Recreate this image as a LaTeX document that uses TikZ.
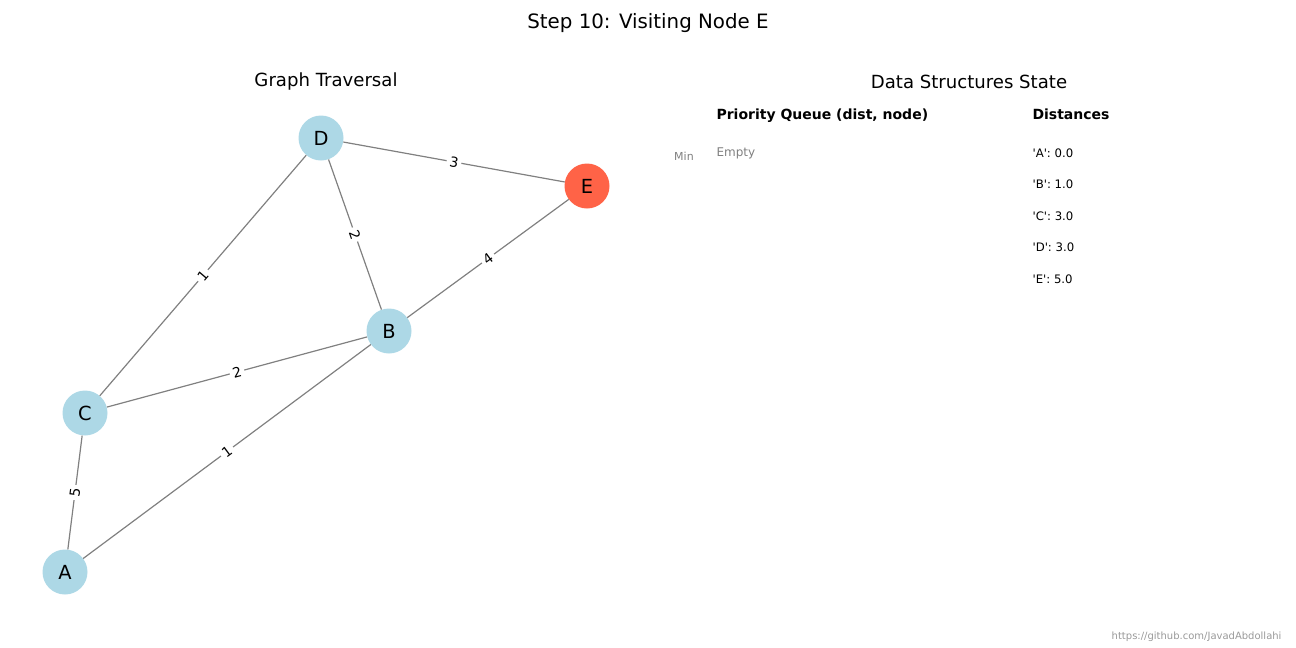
\documentclass[tikz,border=0pt]{standalone}
\usepackage{fontspec}
\setmainfont{DejaVu Sans}
\definecolor{lblue}{HTML}{ADD8E6}
\definecolor{tomato}{HTML}{FF6347}
\definecolor{edgegray}{HTML}{808080}
\newcommand{\q}{\textquotesingle}
\begin{document}
\begin{tikzpicture}[x=1pt,y=-1pt,
  gnode/.style={circle,fill=lblue,minimum size=45pt,inner sep=0pt,font=\fontsize{19.4}{22}\selectfont},
  edge/.style={draw=edgegray,line width=1.2pt},
  elabel/.style={midway,sloped,fill=white,inner sep=3pt,font=\fontsize{13.9}{16}\selectfont},
  ttl/.style={font=\fontsize{18.1}{22}\selectfont},
  hdr/.style={anchor=base west,font=\bfseries\fontsize{14}{17}\selectfont},
  dtxt/.style={anchor=west,font=\fontsize{11.7}{14}\selectfont}]
\useasboundingbox (0,0) rectangle (1296,648);
\node[font=\fontsize{19.8}{23}\selectfont] (title) at (648,23) {Step 10: Visiting Node E};
\node[ttl] (gt) at (326,82) {Graph Traversal};
\node[ttl] (ds) at (969,82) {Data Structures State};
% nodes
\node[gnode] (A) at (65,572) {A};
\node[gnode] (B) at (389,331) {B};
\node[gnode] (C) at (85,413) {C};
\node[gnode] (D) at (321,138) {D};
\node[gnode,fill=tomato] (E) at (587,186) {E};
% edges
\draw[edge] (D) -- node[elabel]{3} (E);
\draw[edge] (D) -- node[elabel]{2} (B);
\draw[edge] (C) -- node[elabel]{1} (D);
\draw[edge] (B) -- node[elabel]{4} (E);
\draw[edge] (C) -- node[elabel]{2} (B);
\draw[edge] (A) -- node[elabel]{1} (B);
\draw[edge] (C) -- node[elabel]{5} (A);
% data structures
\node[hdr] (pq) at (713,119) {Priority Queue (dist, node)};
\node[hdr] (dh) at (1029,119) {Distances};
\node[font=\fontsize{11}{13}\selectfont,text=gray] (min) at (684,156) {Min};
\node[dtxt,text=gray,font=\fontsize{12}{14}\selectfont] (empty) at (713,153) {Empty};
\node[dtxt] (dA) at (1029,153) {\q A\q: 0.0};
\node[dtxt] (dB) at (1029,184) {\q B\q: 1.0};
\node[dtxt] (dC) at (1029,216) {\q C\q: 3.0};
\node[dtxt] (dD) at (1029,247) {\q D\q: 3.0};
\node[dtxt] (dE) at (1029,279) {\q E\q: 5.0};
\node[anchor=east,text=black!40,font=\fontsize{10}{12}\selectfont] (foot) at (1285,637) {https://github.com/JavadAbdollahi};
\end{tikzpicture}
\end{document}
